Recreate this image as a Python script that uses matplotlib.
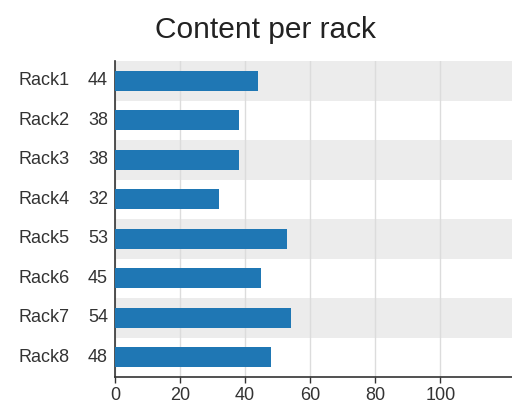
import matplotlib
matplotlib.use("Agg")
import matplotlib.pyplot as plt
import numpy as np

racks = ["Rack1", "Rack2", "Rack3", "Rack4", "Rack5", "Rack6", "Rack7", "Rack8"]
content = [44, 38, 38, 32, 53, 45, 54, 48]
x_ticks = [0, 20, 40, 60, 80, 100]

plt.rcParams["font.family"] = ["Liberation Sans", "DejaVu Sans"]

fig = plt.figure(figsize=(5.12, 4.03), dpi=100)
ax = fig.add_axes([0.2246, 0.0645, 0.7754, 0.784])

n = len(racks)
y = np.arange(n)

# alternating row bands
for i in y:
    if i % 2 == 0:
        ax.axhspan(i - 0.5, i + 0.5, color="#ececec", lw=0, zorder=0)

ax.barh(y, content, height=0.5, color="#1f77b4", zorder=3)

ax.set_xlim(0, 122)
ax.set_ylim(n - 0.5, -0.5)
ax.set_xticks(x_ticks)
ax.set_xticklabels([str(t) for t in x_ticks], fontsize=13, color="#333333")
ax.xaxis.grid(True, color="#dcdcdc", lw=1, zorder=1)
ax.set_axisbelow(True)
ax.tick_params(axis="x", length=4, width=1, color="#333333", pad=3)
ax.set_yticks([])

for s in ["top", "right"]:
    ax.spines[s].set_visible(False)
for s in ["left", "bottom"]:
    ax.spines[s].set_color("#333333")
    ax.spines[s].set_linewidth(1.2)

trans = ax.get_yaxis_transform()
for i, (name, val) in enumerate(zip(racks, content)):
    ax.text(-0.244, i, name, transform=trans, ha="left", va="center",
            fontsize=13, color="#333333")
    ax.text(-0.018, i, str(val), transform=trans, ha="right", va="center",
            fontsize=13, color="#333333")

fig.text(0.518, 0.925, "Content per rack", ha="center", va="center",
         fontsize=21.5, color="#222222")

fig.savefig("out.png", dpi=100)
